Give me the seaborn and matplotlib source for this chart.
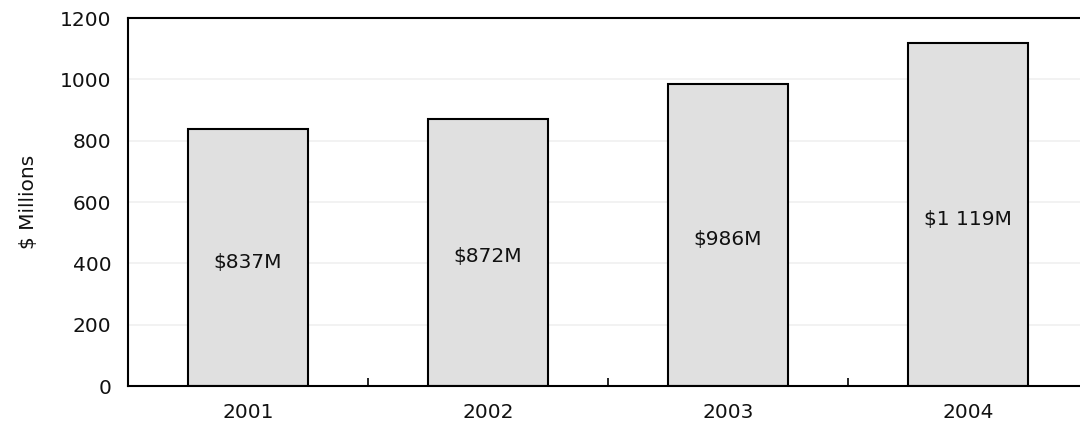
import pandas as pd
import matplotlib.pyplot as plt
import seaborn as sns
from matplotlib.ticker import FixedLocator

years = ["2001", "2002", "2003", "2004"]
revenue = [837, 872, 986, 1119]
bar_labels = ["$837M", "$872M", "$986M", "$1 119M"]

df = pd.DataFrame({"Year": years, "Revenue": revenue})

sns.set_style("white")
plt.rcParams["font.family"] = ["DejaVu Sans"]
plt.rcParams["text.color"] = "#111111"
plt.rcParams["xtick.color"] = "#111111"
plt.rcParams["ytick.color"] = "#111111"
plt.rcParams["axes.labelcolor"] = "#111111"

fig = plt.figure(figsize=(10.8, 4.3), dpi=100)
ax = fig.add_axes([0.1185, 0.1023, 0.8889, 0.8558])

sns.barplot(data=df, x="Year", y="Revenue", color="#e0e0e0",
            edgecolor="black", linewidth=1.5, width=0.5, saturation=1, ax=ax)

# value labels roughly in the middle of each bar
for i, (v, lab) in enumerate(zip(revenue, bar_labels)):
    ax.text(i, v / 2 - 15, lab, ha="center", va="center", fontsize=14.5)

ax.set_xlim(-0.5, len(years) - 0.5)
ax.set_ylim(0, 1200)
ax.set_yticks(range(0, 1201, 200))
ax.yaxis.grid(True, color="#f0f0f0", linewidth=1.2)
ax.set_axisbelow(True)

ax.set_xlabel("")
ax.set_ylabel("$ Millions", fontsize=14.5, labelpad=16)
ax.tick_params(axis="y", labelsize=14.5, length=0, pad=12)
ax.tick_params(axis="x", labelsize=14.5, length=0, pad=12)

# small tick marks between the categories
ax.xaxis.set_minor_locator(FixedLocator([0.5, 1.5, 2.5]))
ax.tick_params(axis="x", which="minor", bottom=True, direction="in",
               length=6, width=1.2, color="black")

for side in ["left", "bottom", "top"]:
    ax.spines[side].set_color("black")
    ax.spines[side].set_linewidth(1.5)
ax.spines["right"].set_visible(False)

fig.savefig("out.png", dpi=100)
